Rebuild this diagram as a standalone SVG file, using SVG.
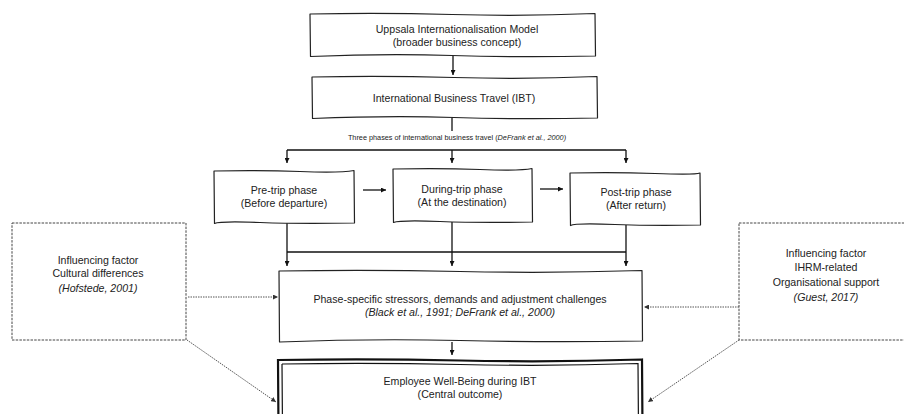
<svg xmlns="http://www.w3.org/2000/svg" width="904" height="414" viewBox="0 0 904 414">
<style>
.box{fill:#fff;stroke:#222;stroke-width:1.2;stroke-linejoin:round}
.thick{fill:#fff;stroke:#111;stroke-width:2.2}
.thin{fill:none;stroke:#111;stroke-width:1.2}
.dash{fill:#fff;stroke:#444;stroke-width:1;stroke-dasharray:2.5 1.2}
.ln{fill:none;stroke:#111;stroke-width:1.3}
.dot{fill:none;stroke:#555;stroke-width:1;stroke-dasharray:1.5 1}
text{font-family:"Liberation Sans",Arial,sans-serif;font-size:10.6px;fill:#222;text-anchor:middle}
.sm{font-size:7.3px}
.it{font-style:italic}
</style>
<defs>
<marker id="ah" viewBox="0 0 6 6" refX="6" refY="3" markerWidth="5" markerHeight="5" markerUnits="userSpaceOnUse" orient="auto">
<path d="M0,0 L6,3 L0,6 Z" fill="#111"/>
</marker>
<marker id="ahg" viewBox="0 0 6 6" refX="6" refY="3" markerWidth="5" markerHeight="5" markerUnits="userSpaceOnUse" orient="auto">
<path d="M0,0 L6,3 L0,6 Z" fill="#333"/>
</marker>
</defs>

<g id="connectors">
<path class="ln" d="M453,56 V75" marker-end="url(#ah)"/>
<path class="ln" d="M452,118 V131"/>
<path class="ln" d="M287,150 H626"/>
<path class="ln" d="M287,150 V163" marker-end="url(#ah)"/>
<path class="ln" d="M452,150 V163" marker-end="url(#ah)"/>
<path class="ln" d="M626,150 V163" marker-end="url(#ah)"/>
<path class="ln" d="M363,190 H386" marker-end="url(#ah)"/>
<path class="ln" d="M540,189 H563" marker-end="url(#ah)"/>
<path class="ln" d="M287,223 V266" marker-end="url(#ah)"/>
<path class="ln" d="M452,222 V266" marker-end="url(#ah)"/>
<path class="ln" d="M626,225 V266" marker-end="url(#ah)"/>
<path class="ln" d="M287,252 H626"/>
<path class="ln" d="M452,342 V355" marker-end="url(#ah)"/>
<path class="dot" d="M188,297 H278" marker-end="url(#ahg)"/>
<path class="dot" d="M739,307 H644" marker-end="url(#ahg)"/>
<path class="dot" d="M187,340 L276,402" marker-end="url(#ahg)"/>
<path class="dot" d="M739,340 L648,402" marker-end="url(#ahg)"/>
</g>

<g id="uppsala">
<path class="box" d="M310,14 Q380,12.5 452,14.5 T595,13.5 L595.5,56 Q520,57.5 452,55.5 T310.5,56.5 Z"/>
<text x="457" y="33">Uppsala Internationalisation Model</text>
<text x="457" y="46">(broader business concept)</text>
</g>

<g id="ibt">
<path class="box" d="M312,77 Q380,75.5 454,77.5 T597,76.5 L597.5,118 Q520,119.5 454,117.5 T312.5,118.5 Z"/>
<text x="454" y="102">International Business Travel (IBT)</text>
</g>

<g id="three-phases-label">
<text class="sm" x="457" y="140">Three phases of international business travel (<tspan class="it">DeFrank et al., 2000)</tspan></text>
</g>

<g id="pre-trip">
<path class="box" d="M214,171 Q260,170 300,171.5 T354,170.5 L354.5,223 Q300,224 260,222.5 T214.5,223.5 Z"/>
<text x="284" y="194">Pre-trip phase</text>
<text x="284" y="207">(Before departure)</text>
</g>

<g id="during-trip">
<path class="box" d="M393,169 Q440,168 480,169.5 T532,168.5 L532.5,222 Q480,223 440,221.5 T393.5,222.5 Z"/>
<text x="462" y="193">During-trip phase</text>
<text x="462" y="206">(At the destination)</text>
</g>

<g id="post-trip">
<path class="box" d="M570,173 Q615,172 655,173.5 T700,173 L700.5,225 Q655,226 615,224.5 T570.5,225.5 Z"/>
<text x="636" y="196">Post-trip phase</text>
<text x="636" y="209">(After return)</text>
</g>

<g id="stressors">
<path class="box" d="M279,271 Q370,269.5 460,271.5 T642,270.5 L642.5,341 Q550,342.5 460,340.5 T279.5,342 Z"/>
<text x="460" y="303">Phase-specific stressors, demands and adjustment challenges</text>
<text class="it" x="460" y="316">(Black et al., 1991; DeFrank et al., 2000)</text>
</g>

<g id="wellbeing">
<path class="thick" d="M278,360 Q370,358.5 460,360.5 T642,359.5 L642.5,430 L278.5,430 Z"/>
<path class="thin" d="M282,364 Q370,362.5 460,364.5 T638,363.5 L638.5,430 M282,364 L282.5,430"/>
<text x="460" y="385">Employee Well-Being during IBT</text>
<text x="460" y="398">(Central outcome)</text>
</g>

<g id="cultural">
<rect class="dash" x="12" y="223" width="174" height="117"/>
<text x="98" y="264">Influencing factor</text>
<text x="98" y="277">Cultural differences</text>
<text class="it" x="98" y="292">(Hofstede, 2001)</text>
</g>

<g id="ihrm">
<rect class="dash" x="739" y="223" width="175" height="117"/>
<text x="826" y="257">Influencing factor</text>
<text x="826" y="271">IHRM-related</text>
<text x="826" y="286">Organisational support</text>
<text class="it" x="826" y="301">(Guest, 2017)</text>
</g>
</svg>
